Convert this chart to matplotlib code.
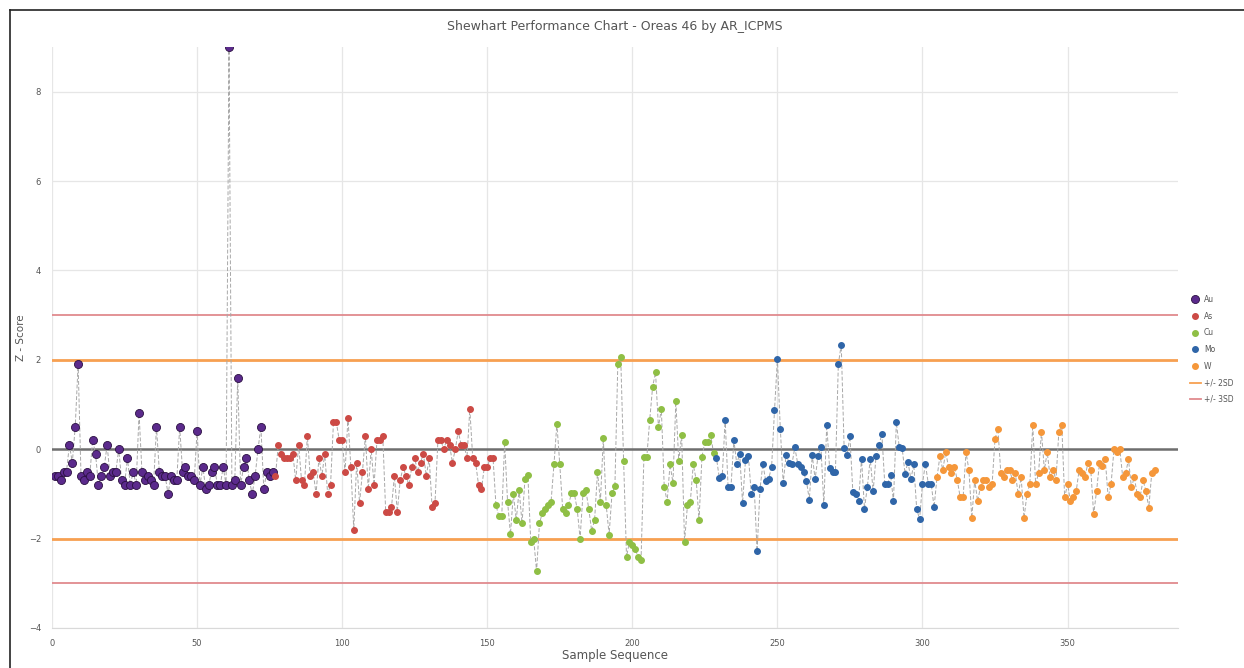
import matplotlib.pyplot as plt
from matplotlib.lines import Line2D
import numpy as np

# z-scores, 76 samples per element, in sequence order
au = [-0.6, -0.6, -0.7, -0.5, -0.5, 0.1, -0.3, 0.5, 1.9, -0.6,
      -0.7, -0.5, -0.6, 0.2, -0.1, -0.8, -0.6, -0.4, 0.1, -0.6,
      -0.5, -0.5, 0.0, -0.7, -0.8, -0.2, -0.8, -0.5, -0.8, 0.8,
      -0.5, -0.7, -0.6, -0.7, -0.8, 0.5, -0.5, -0.6, -0.6, -1.0,
      -0.6, -0.7, -0.7, 0.5, -0.5, -0.4, -0.6, -0.6, -0.7, 0.4,
      -0.8, -0.4, -0.9, -0.8, -0.5, -0.4, -0.8, -0.8, -0.4, -0.8,
      9.0, -0.8, -0.7, 1.6, -0.8, -0.4, -0.2, -0.7, -1.0, -0.6,
      0.0, 0.5, -0.9, -0.5, -0.6, -0.5]
as_ = [-0.6, 0.1, -0.1, -0.2, -0.2, -0.2, -0.1, -0.7, 0.1, -0.7,
       -0.8, 0.3, -0.6, -0.5, -1.0, -0.2, -0.6, -0.1, -1.0, -0.8,
       0.6, 0.6, 0.2, 0.2, -0.5, 0.7, -0.4, -1.8, -0.3, -1.2,
       -0.5, 0.3, -0.9, 0.0, -0.8, 0.2, 0.2, 0.3, -1.4, -1.4,
       -1.3, -0.6, -1.4, -0.7, -0.4, -0.6, -0.8, -0.4, -0.2, -0.5,
       -0.3, -0.1, -0.6, -0.2, -1.3, -1.2, 0.2, 0.2, 0.0, 0.2,
       0.1, -0.3, 0.0, 0.4, 0.1, 0.1, -0.2, 0.9, -0.2, -0.3,
       -0.8, -0.9, -0.4, -0.4, -0.2, -0.2]
cu = [-1.25, -1.5, -1.5, 0.16, -1.17, -1.9, -1.0, -1.58, -0.91, -1.66,
      -0.66, -0.58, -2.07, -2.0, -2.73, -1.66, -1.42, -1.34, -1.25, -1.17,
      -0.34, 0.57, -0.34, -1.34, -1.42, -1.25, -0.99, -0.99, -1.34, -2.0,
      -0.99, -0.92, -1.34, -1.83, -1.58, -0.51, -1.17, 0.24, -1.25, -1.91,
      -0.99, -0.83, 1.91, 2.07, -0.26, -2.41, -2.07, -2.15, -2.24, -2.41,
      -2.49, -0.17, -0.17, 0.66, 1.40, 1.72, 0.49, 0.90, -0.84, -1.17,
      -0.34, -0.75, 1.07, -0.26, 0.32, -2.08, -1.25, -1.17, -0.34, -0.68,
      -1.58, -0.17, 0.16, 0.16, 0.32, -0.09]
mo = [-0.2, -0.65, -0.59, 0.66, -0.84, -0.84, 0.2, -0.33, -0.10, -1.21,
      -0.25, -0.15, -1.0, -0.84, -2.28, -0.89, -0.33, -0.72, -0.66, -0.40,
      0.87, 2.02, 0.46, -0.75, -0.13, -0.30, -0.34, 0.04, -0.32, -0.40,
      -0.52, -0.71, -1.13, -0.13, -0.67, -0.15, 0.06, -1.25, 0.54, -0.43,
      -0.52, -0.50, 1.90, 2.34, 0.02, -0.13, 0.29, -0.96, -1.01, -1.15,
      -0.21, -1.33, -0.84, -0.22, -0.94, -0.16, 0.09, 0.34, -0.77, -0.77,
      -0.57, -1.16, 0.60, 0.04, 0.02, -0.55, -0.28, -0.67, -0.34, -1.33,
      -1.57, -0.77, -0.33, -0.77, -0.77, -1.3]
w = [-0.63, -0.16, -0.46, -0.07, -0.40, -0.54, -0.40, -0.69, -1.08, -1.08,
     -0.07, -0.46, -1.54, -0.69, -1.16, -0.85, -0.69, -0.69, -0.85, -0.78,
     0.23, 0.46, -0.54, -0.63, -0.46, -0.46, -0.69, -0.54, -1.01, -0.63,
     -1.54, -1.01, -0.78, 0.54, -0.78, -0.54, 0.39, -0.46, -0.07, -0.63,
     -0.46, -0.69, 0.39, 0.54, -1.08, -0.78, -1.16, -1.08, -0.93, -0.46,
     -0.54, -0.63, -0.31, -0.46, -1.46, -0.93, -0.31, -0.38, -0.23, -1.08,
     -0.78, 0.0, -0.07, 0.0, -0.62, -0.54, -0.23, -0.85, -0.63, -1.01,
     -1.08, -0.69, -0.93, -1.31, -0.54, -0.46]

elements = ["Au", "As", "Cu", "Mo", "W"]
series = [au, as_, cu, mo, w]
colors = ["#5b2a8c", "#cc4a45", "#8fbf45", "#2f65a8", "#f5973a"]

fig = plt.figure(figsize=(12.44, 6.68), dpi=100)
ax = fig.add_axes([0.0418, 0.0599, 0.905, 0.8698])

# connecting line through all samples
all_y = np.concatenate(series)
all_x = np.arange(1, len(all_y) + 1)
ax.plot(all_x, all_y, color="#a8a8a8", lw=0.7, ls=(0, (4, 2)), zorder=2)

start = 1
for name, ys, c in zip(elements, series, colors):
    xs = np.arange(start, start + len(ys))
    if name == "Au":
        ax.plot(xs, ys, "o", ms=5.8, color=c, mec="#2a1040", mew=0.6,
                label=name, zorder=4)
    else:
        ax.plot(xs, ys, "o", ms=4, color=c, mec=c, label=name, zorder=4)
    start += len(ys)

# control limits
ax.axhline(0, color="#6e6e6e", lw=1.8, zorder=1)
for v in (2, -2):
    ax.axhline(v, color="#f7a051", lw=2, zorder=1)
for v in (3, -3):
    ax.axhline(v, color="#e08a8e", lw=1.3, zorder=1)

ax.set_xlim(0, 388)
ax.set_ylim(-4, 9)
ax.set_xticks([0, 50, 100, 150, 200, 250, 300, 350])
ax.set_yticks([-4, -2, 0, 2, 4, 6, 8])
ax.tick_params(length=0, labelsize=6, colors="#555555", pad=8)
ax.grid(True, color="#e6e6e6", lw=0.9)
ax.set_axisbelow(True)
for s in ["top", "right", "left"]:
    ax.spines[s].set_visible(False)
ax.spines["bottom"].set_color("#d9d9d9")

ax.set_title("Shewhart Performance Chart - Oreas 46 by AR_ICPMS",
             fontsize=9, color="#555555", pad=12)
ax.set_xlabel("Sample Sequence", fontsize=8.5, color="#555555", labelpad=1)
ax.set_ylabel("Z - Score", fontsize=7.5, color="#555555", labelpad=2)

handles, labels = ax.get_legend_handles_labels()
handles += [Line2D([], [], color="#f7a051", lw=1.3),
            Line2D([], [], color="#e08a8e", lw=1.3)]
labels += ["+/- 2SD", "+/- 3SD"]
fig.legend(handles, labels, loc="upper left", bbox_to_anchor=(0.953, 0.565),
           frameon=False, fontsize=5.5, labelcolor="#555555",
           handlelength=1.4, handletextpad=0.4, labelspacing=1.0,
           borderaxespad=0.2)

# screenshot frame
fig.add_artist(Line2D([10 / 1244, 10 / 1244], [0, 1 - 10 / 668],
                      transform=fig.transFigure, color="#222222", lw=1.2))
fig.add_artist(Line2D([10 / 1244, 1], [1 - 10 / 668, 1 - 10 / 668],
                      transform=fig.transFigure, color="#222222", lw=1.2))

plt.savefig("out.png", dpi=100)
